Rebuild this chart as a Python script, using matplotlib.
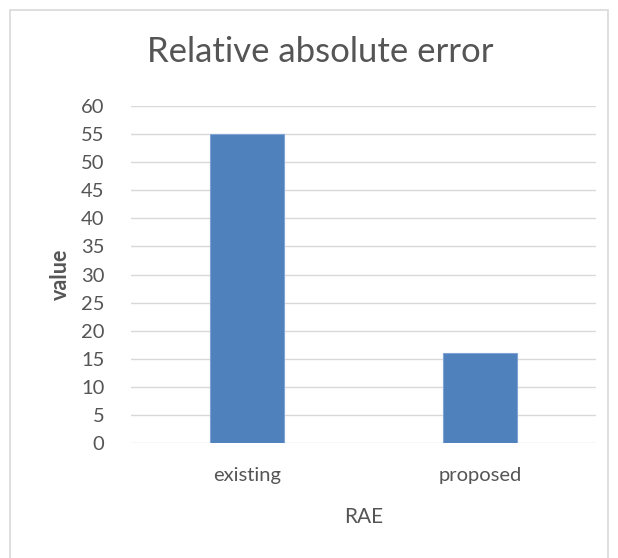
import matplotlib
matplotlib.use("Agg")
import matplotlib.pyplot as plt
from matplotlib.patches import Rectangle

categories = ["existing", "proposed"]
values = [55, 16]
yticks = [0, 5, 10, 15, 20, 25, 30, 35, 40, 45, 50, 55, 60]

W, H = 618, 558
fig = plt.figure(figsize=(W / 100, H / 100), dpi=100)
plt.rcParams['font.family'] = ['Lato', 'DejaVu Sans']
txt = "#555555"

# chart border (bottom edge is cut off in the reference)
fig.patches.append(Rectangle((10 / W, -0.05), 598 / W, (H - 10) / H + 0.05, transform=fig.transFigure,
                             fill=False, edgecolor="#D9D9D9", linewidth=1.2))

ax = fig.add_axes([131 / W, (H - 443) / H, (596 - 131) / W, (443 - 106) / H])
x = list(range(len(categories)))
ax.bar(x, values, width=0.32, color="#4F81BD", edgecolor="#7FA3D3", linewidth=0.8, zorder=3)
ax.set_xlim(-0.5, 1.5)
ax.set_ylim(0, 60)
ax.set_yticks(yticks)
ax.set_xticks(x)
ax.set_xticklabels(categories)
ax.grid(axis="y", color="#D9D9D9", linewidth=1.0, zorder=0)
for s in ax.spines.values():
    s.set_visible(False)
ax.tick_params(axis="both", length=0, labelsize=14.5, colors=txt)
ax.tick_params(axis="y", pad=19)
ax.tick_params(axis="x", pad=17)
ax.set_ylabel("value", fontsize=15.5, color=txt, labelpad=7, fontweight="bold")
ax.set_xlabel("RAE", fontsize=15, color=txt, labelpad=17)
fig.text(320 / W, 1 - 52 / H, "Relative absolute error", ha="center", va="center",
         fontsize=25, color=txt)

fig.savefig("out.png", dpi=100)
